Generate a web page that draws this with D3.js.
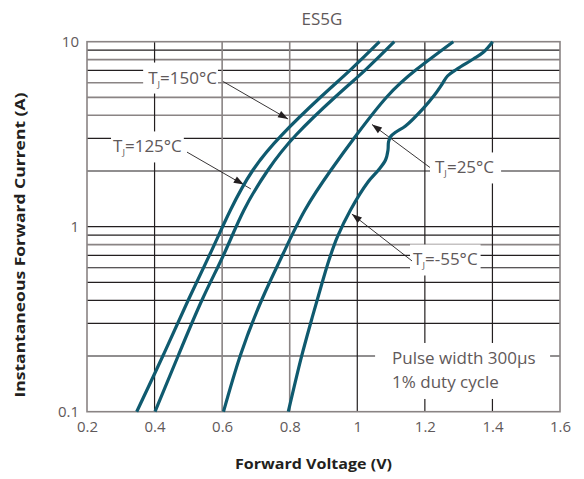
<!DOCTYPE html>
<html><head><meta charset="utf-8">
<script src="https://cdn.jsdelivr.net/npm/d3@7"></script>
<style>body{margin:0;background:#fff}</style>
</head><body><svg id="c" width="584" height="479"></svg>
<script>
// ---------- data ----------
const chartTitle = "ES5G";
const xLabel = "Forward Voltage (V)";
const yLabel = "Instantaneous Forward Current (A)";
const xTicks = [0.2, 0.4, 0.6, 0.8, 1, 1.2, 1.4, 1.6];
const xTickLabels = ["0.2", "0.4", "0.6", "0.8", "1", "1.2", "1.4", "1.6"];
const yTicks = [0.1, 1, 10];
const yTickLabels = ["0.1", "1", "10"];
const yGrid = [0.2,0.3,0.4,0.5,0.6,0.7,0.8,0.9,1,2,3,4,5,6,7,8,9];

const iCommon = [0.1, 0.2025, 0.4016, 0.712, 1.231, 2.025, 3.13, 5.04, 7.09, 10];
const v150 = [0.3471, 0.4258, 0.4998, 0.5641, 0.6247, 0.6913, 0.7763, 0.8926, 0.9814, 1.0657];
const i150 = iCommon;
const v125 = [0.4013, 0.4708, 0.5404, 0.6055, 0.6647, 0.7357, 0.8186, 0.9355, 1.0258, 1.1095];
const i125 = iCommon;
const v25 = [0.6040, 0.6543, 0.7170, 0.7801, 0.8452, 0.9222, 0.9976, 1.0879, 1.1758, 1.2842];
const i25 = iCommon;
const vm55 = [0.7958,0.8349,0.8645,0.8926,0.9163,0.9414,0.9799,1.0317,1.0628,1.0835,1.0909,1.0924,1.0983,1.1146,1.1427,1.1954,1.2285,1.2493,1.2670,1.2951,1.3434,1.3730,1.4008];
const im55 = [0.1,0.1983,0.3131,0.4738,0.6607,0.883,1.231,1.744,2.025,2.293,2.598,2.870,3.065,3.250,3.503,4.365,5.151,5.834,6.525,7.118,8.063,8.765,10];

const seriesNames = ["150°C", "125°C", "25°C", "-55°C"];
const seriesV = [v150, v125, v25, vm55];
const seriesI = [i150, i125, i25, im55];

// annotation anchors in data units (V, A)
const annText = [[0.381, 5.94], [0.277, 2.52], [1.230, 1.94], [1.165, 0.617]];
const annFrom = [[0.603, 6.09], [0.496, 2.53], [1.215, 2.09], [1.162, 0.653]];
const annTip  = [[0.795, 3.82], [0.664, 1.69], [1.0435, 3.57], [0.984, 1.17]];
const annEnd  = [[0.795, 3.82], [0.685, 1.60], [1.0435, 3.57], [0.984, 1.17]];
const noteLines = ["Pulse width 300μs", "1% duty cycle"];
const noteAt = [1.103, 0.180];

// ---------- styles ----------
const DARK = "#231f20", GRAY = "#8a8484", CURVE = "#0f5a6f", TXT = "#5f595a";
const grayH = new Set([8, 6, 5, 4, 0.8]);
const grayV = new Set([0.6, 0.8]);
const boxPad = [[5, 1], [2, 2], [5, 7], [3, 3]];

const svg = d3.select("#c");
const x = d3.scaleLinear().domain([0.2, 1.6]).range([87, 560]);
const y = d3.scaleLog().domain([0.1, 10]).range([411.7, 41.7]);

const g = svg.append("g");
// grid
yGrid.forEach(v => {
  g.append("line").attr("x1", x(0.2)).attr("x2", x(1.6)).attr("y1", y(v)).attr("y2", y(v))
    .attr("stroke", grayH.has(v) ? GRAY : DARK).attr("stroke-width", grayH.has(v) ? 1.6 : 1.2);
});
xTicks.slice(1, -1).forEach(v => {
  g.append("line").attr("x1", x(v)).attr("x2", x(v)).attr("y1", y(0.1)).attr("y2", y(10))
    .attr("stroke", grayV.has(v) ? GRAY : DARK).attr("stroke-width", grayV.has(v) ? 1.6 : 1.2);
});
g.append("rect").attr("x", x(0.2)).attr("y", y(10)).attr("width", x(1.6) - x(0.2)).attr("height", y(0.1) - y(10))
  .attr("fill", "none").attr("stroke", GRAY).attr("stroke-width", 1.6);

// axis tick labels via d3 axes
const xAxis = d3.axisBottom(x).tickValues(xTicks).tickFormat((d, i) => xTickLabels[i]).tickSize(0).tickPadding(10);
const ax = svg.append("g").attr("transform", `translate(0,${y(0.1)})`).call(xAxis);
ax.select(".domain").remove();
ax.selectAll("text").attr("font-family", "Open Sans").attr("font-size", 15).attr("fill", TXT);

const yAxis = d3.axisLeft(y).tickValues(yTicks).tickFormat((d, i) => yTickLabels[i]).tickSize(0).tickPadding(8);
const ay = svg.append("g").attr("transform", `translate(${x(0.2)},0)`).call(yAxis);
ay.select(".domain").remove();
ay.selectAll("text").attr("font-family", "Open Sans").attr("font-size", 15).attr("fill", TXT);

// titles
svg.append("text").attr("x", 322).attr("y", 25).attr("text-anchor", "middle")
  .attr("font-family", "Open Sans").attr("font-size", 17).attr("fill", TXT).text(chartTitle);
svg.append("text").attr("x", 313.5).attr("y", 469).attr("text-anchor", "middle")
  .attr("font-family", "Open Sans").attr("font-weight", "bold").attr("font-size", 14)
  .attr("fill", DARK).attr("textLength", 157).attr("lengthAdjust", "spacingAndGlyphs").text(xLabel);
svg.append("text").attr("transform", "translate(25,245) rotate(-90)").attr("text-anchor", "middle")
  .attr("font-family", "Open Sans").attr("font-weight", "bold").attr("font-size", 14)
  .attr("fill", DARK).attr("textLength", 305).attr("lengthAdjust", "spacingAndGlyphs").text(yLabel);

// annotation labels with white boxes
const annLayer = svg.append("g");
seriesNames.forEach((nm, k) => {
  const tx = x(annText[k][0]), ty = y(annText[k][1]);
  const grp = annLayer.append("g");
  const rect = grp.append("rect").attr("fill", "#fff");
  const t = grp.append("text").attr("x", tx).attr("y", ty)
    .attr("font-family", "Open Sans").attr("font-size", 17).attr("fill", TXT);
  t.append("tspan").text("T");
  t.append("tspan").attr("font-size", 9.5).attr("dy", 4).text("J");
  t.append("tspan").attr("dy", -4).text("=" + nm);
  const w = t.node().getComputedTextLength();
  rect.attr("x", tx - boxPad[k][0]).attr("y", ty - 21).attr("width", w + boxPad[k][0] + boxPad[k][1]).attr("height", 31);
});
// note box
{
  const tx = x(noteAt[0]), ty = y(noteAt[1]);
  const grp = annLayer.append("g");
  grp.append("rect").attr("fill", "#fff").attr("x", tx - 17).attr("y", ty - 21.5).attr("width", 175).attr("height", 56);
  noteLines.forEach((s, i) => grp.append("text").attr("x", tx).attr("y", ty + i * 24)
    .attr("font-family", "Open Sans").attr("font-size", 17).attr("fill", TXT).text(s));
}

// arrows
const arr = svg.append("g");
seriesNames.forEach((nm, k) => {
  const x0 = x(annFrom[k][0]), y0 = y(annFrom[k][1]);
  const x1 = x(annEnd[k][0]), y1 = y(annEnd[k][1]);
  const xt = x(annTip[k][0]), yt = y(annTip[k][1]);
  arr.append("line").attr("x1", x0).attr("y1", y0).attr("x2", x1).attr("y2", y1)
    .attr("stroke", DARK).attr("stroke-width", 0.9);
  const ang = Math.atan2(y1 - y0, x1 - x0);
  const L = 10, W = 3.6;
  const bx = xt - L * Math.cos(ang), by = yt - L * Math.sin(ang);
  const px = -Math.sin(ang) * W, py = Math.cos(ang) * W;
  arr.append("path").attr("d", `M${xt},${yt}L${bx + px},${by + py}L${bx - px},${by - py}Z`).attr("fill", DARK);
});

// curves
const smooth = d3.line().x(d => x(d[0])).y(d => y(d[1])).curve(d3.curveNatural);
const wiggly = d3.line().x(d => x(d[0])).y(d => y(d[1])).curve(d3.curveCatmullRom.alpha(0.5));
seriesV.forEach((vs, k) => {
  const pts = vs.map((v, i) => [v, seriesI[k][i]]);
  svg.append("path").datum(pts).attr("d", k === 3 ? wiggly : smooth).attr("fill", "none")
    .attr("stroke", CURVE).attr("stroke-width", 3.2).attr("stroke-linecap", "butt").attr("stroke-linejoin", "round");
});
</script>
</body></html>
